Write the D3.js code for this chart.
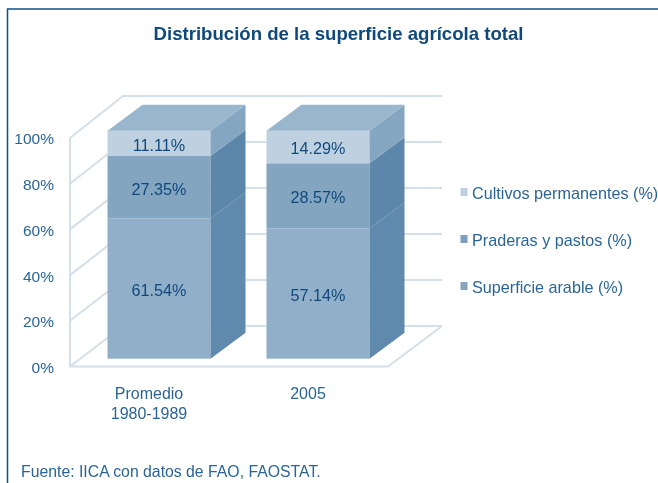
<!DOCTYPE html>
<html>
<head>
<meta charset="utf-8">
<script src="https://cdn.jsdelivr.net/npm/d3@7"></script>
<style>
html,body{margin:0;padding:0;background:#fff}
svg{display:block}
text{font-family:"Liberation Sans",Arial,sans-serif}
</style>
</head>
<body>
<svg id="c" width="658" height="483"></svg>
<script>
const categories = ["Promedio|1980-1989", "2005"];
const superficieArable = [61.54, 57.14];
const praderasPastos = [27.35, 28.57];
const cultivosPermanentes = [11.11, 14.29];
const tickValues = [0, 20, 40, 60, 80, 100];
const legendLabels = ["Cultivos permanentes (%)", "Praderas y pastos (%)", "Superficie arable (%)"];
const titleText = "Distribución de la superficie agrícola total";
const sourceText = "Fuente: IICA con datos de FAO, FAOSTAT.";

const W = 658, H = 483;
const svg = d3.select("#c");
const ink = "#2a6595", inkDark = "#0f4a7d", grid = "#d3dfe9";

const defs = svg.append("defs");
defs.append("filter").attr("id","soft").append("feGaussianBlur").attr("stdDeviation",0.45);
const root = svg.append("g").attr("filter","url(#soft)");

// frame
root.append("path").attr("d",`M${W},9H7.5V${H}`).attr("fill","none").attr("stroke","#0f4f86").attr("stroke-width",1.5);

// scales
const yWall = d3.scaleLinear().domain([0,100]).range([366.5,138]);
const yBack = d3.scaleLinear().domain([0,100]).range([326,96]);
const yBar  = d3.scaleLinear().domain([0,100]).range([358.7,130.7]);
const x = d3.scaleBand().domain(categories).range([107.5,369.5]).paddingInner(0.352).paddingOuter(0);
const barW = x.bandwidth();
const depthX = 35, depthY = 26;
const wallL = 70, wallB = 123, wallR = 442, floorR = 388;

// walls
const gridG = root.append("g").attr("fill","none").attr("stroke",grid).attr("stroke-width",2);
tickValues.forEach(t=>{
  gridG.append("path").attr("d",`M${wallL},${yWall(t)}L${wallB},${yBack(t)}H${wallR}`);
});
gridG.append("path").attr("d",`M${wallL},${yWall(100)}V${yWall(0)}H${floorR}L${wallR},${yBack(0)}`);

// stacked bars
const seriesNames = ["arable","praderas","cultivos"];
const rows = categories.map((c,i)=>({c,arable:superficieArable[i],praderas:praderasPastos[i],cultivos:cultivosPermanentes[i]}));
const stack = d3.stack().keys(seriesNames)(rows);
const front = {arable:"#92afc9",praderas:"#84a5c0",cultivos:"#bfd1e0"};
const side  = {arable:"#6089ae",praderas:"#5c86aa",cultivos:"#84a6c1"};
const topFace = "#9ab6cd";

const barsG = root.append("g");
stack.forEach(s=>{
  s.forEach(d=>{
    const x0 = x(d.data.c), x1 = x0+barW;
    const y0 = yBar(d[0]), y1 = yBar(d[1]);
    barsG.append("rect").attr("x",x0).attr("y",y1).attr("width",barW).attr("height",y0-y1).attr("fill",front[s.key]);
    barsG.append("path").attr("fill",side[s.key])
      .attr("d",`M${x1},${y0}L${x1+depthX},${y0-depthY}V${y1-depthY}L${x1},${y1}Z`);
  });
});
categories.forEach(c=>{
  const x0=x(c),x1=x0+barW,yt=yBar(100);
  barsG.append("path").attr("fill",topFace)
    .attr("d",`M${x0},${yt}L${x0+depthX},${yt-depthY}H${x1+depthX}L${x1},${yt}Z`);
});

// value labels
const labelG = root.append("g").attr("fill",inkDark).attr("font-size",16.2).attr("text-anchor","middle");
stack.forEach(s=>{
  s.forEach(d=>{
    labelG.append("text")
      .attr("x",x(d.data.c)+barW/2)
      .attr("y",yBar((d[0]+d[1])/2)+7.5)
      .text(d3.format(".2f")(d[1]-d[0])+"%");
  });
});

// y axis
const axisG = root.append("g").attr("transform","translate(60,1)")
  .call(d3.axisLeft(yWall).tickValues(tickValues).tickFormat(v=>v+"%").tickSize(0).tickPadding(6));
axisG.select(".domain").remove();
axisG.selectAll("text").attr("font-size",15.5).attr("fill",ink).attr("font-family",'"Liberation Sans"');

// category labels
const catG = root.append("g").attr("fill",ink).attr("font-size",16).attr("text-anchor","middle");
categories.forEach(c=>{
  c.split("|").forEach((l,j)=>{
    catG.append("text").attr("x",x(c)+barW/2-10).attr("y",399+j*20).text(l);
  });
});

// legend
const legendColors = [front.cultivos,"#7f9fba","#86a5c0"];
const legendY = d3.scalePoint().domain(legendLabels).range([193,287]);
const leg = root.append("g");
legendLabels.forEach((l,i)=>{
  leg.append("rect").attr("x",460.5).attr("y",legendY(l)-5).attr("width",7).attr("height",8).attr("fill",legendColors[i]);
  leg.append("text").attr("x",472).attr("y",legendY(l)+5.5).attr("font-size",16.2).attr("fill",ink).text(l);
});

// title, source
root.append("text").attr("x",338.5).attr("y",40).attr("text-anchor","middle")
  .attr("font-size",18.6).attr("font-weight","bold").attr("fill",inkDark).text(titleText);
root.append("text").attr("x",21).attr("y",477).attr("font-size",15.8).attr("fill",ink).text(sourceText);
</script>
</body>
</html>
